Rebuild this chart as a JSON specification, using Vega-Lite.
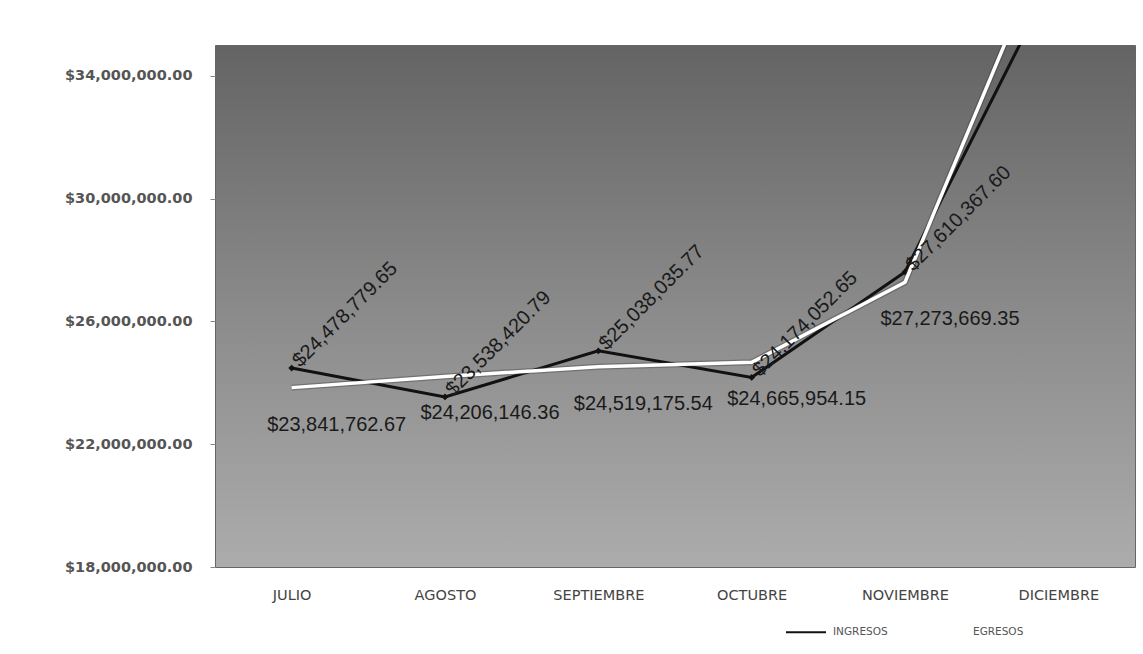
{
  "$schema": "https://vega.github.io/schema/vega-lite/v6.json",
  "width": 920,
  "height": 522,
  "autosize": {"type": "none"},
  "padding": {"left": 215, "top": 45, "right": 8, "bottom": 87},
  "background": "white",
  "config": {
    "view": {
      "stroke": "#666",
      "strokeWidth": 1,
      "fill": {
        "gradient": "linear",
        "x1": 0, "y1": 0, "x2": 0, "y2": 1,
        "stops": [
          {"offset": 0, "color": "#646464"},
          {"offset": 0.5, "color": "#8a8a8a"},
          {"offset": 1, "color": "#acacac"}
        ]
      }
    }
  },
  "data": {
    "values": [
      {"mes": "JULIO", "serie": "INGRESOS", "valor": 24478779.65},
      {"mes": "AGOSTO", "serie": "INGRESOS", "valor": 23538420.79},
      {"mes": "SEPTIEMBRE", "serie": "INGRESOS", "valor": 25038035.77},
      {"mes": "OCTUBRE", "serie": "INGRESOS", "valor": 24174052.65},
      {"mes": "NOVIEMBRE", "serie": "INGRESOS", "valor": 27610367.60},
      {"mes": "DICIEMBRE", "serie": "INGRESOS", "valor": 37500000},
      {"mes": "JULIO", "serie": "EGRESOS", "valor": 23841762.67},
      {"mes": "AGOSTO", "serie": "EGRESOS", "valor": 24206146.36},
      {"mes": "SEPTIEMBRE", "serie": "EGRESOS", "valor": 24519175.54},
      {"mes": "OCTUBRE", "serie": "EGRESOS", "valor": 24665954.15},
      {"mes": "NOVIEMBRE", "serie": "EGRESOS", "valor": 27273669.35},
      {"mes": "DICIEMBRE", "serie": "EGRESOS", "valor": 39200000}
    ]
  },
  "encoding": {
    "x": {
      "field": "mes",
      "type": "nominal",
      "sort": ["JULIO", "AGOSTO", "SEPTIEMBRE", "OCTUBRE", "NOVIEMBRE", "DICIEMBRE"],
      "scale": {"type": "point", "padding": 0.5},
      "axis": {
        "title": null,
        "labelAngle": 0,
        "ticks": false,
        "domain": false,
        "labelPadding": 21,
        "labelFont": "DejaVu Sans",
        "labelFontSize": 14.5,
        "labelColor": "#444"
      }
    },
    "y": {
      "field": "valor",
      "type": "quantitative",
      "scale": {"domain": [18000000, 35000000], "nice": false, "zero": false},
      "axis": {
        "title": null,
        "values": [18000000, 22000000, 26000000, 30000000, 34000000],
        "format": "$,.2f",
        "grid": false,
        "domain": false,
        "tickSize": 5,
        "tickColor": "#888",
        "labelPadding": 18,
        "labelFont": "DejaVu Sans",
        "labelFontSize": 14.5,
        "labelFontWeight": "bold",
        "labelColor": "#555"
      }
    }
  },
  "layer": [
    {
      "transform": [{"filter": "datum.serie === 'INGRESOS'"}],
      "mark": {"type": "line", "strokeWidth": 3, "clip": true},
      "encoding": {
        "color": {
          "field": "serie",
          "type": "nominal",
          "scale": {"domain": ["INGRESOS", "EGRESOS"], "range": ["#111111", "#ffffff"]},
          "legend": {
            "title": null,
            "orient": "none",
            "legendX": 570,
            "legendY": 566,
            "direction": "horizontal",
            "symbolType": "stroke",
            "symbolStrokeWidth": 2,
            "symbolSize": 1600,
            "labelFont": "DejaVu Sans",
            "labelFontSize": 10.5,
            "labelColor": "#555",
            "labelOffset": 6,
            "columnPadding": 34
          }
        }
      }
    },
    {
      "transform": [{"filter": "datum.serie === 'INGRESOS'"}],
      "mark": {"type": "point", "shape": "diamond", "filled": true, "size": 45, "color": "#111", "opacity": 1, "clip": true}
    },
    {
      "transform": [{"filter": "datum.serie === 'EGRESOS'"}],
      "mark": {"type": "line", "strokeWidth": 6, "stroke": "#333", "opacity": 0.35, "clip": true},
      "encoding": {}
    },
    {
      "transform": [{"filter": "datum.serie === 'EGRESOS'"}],
      "mark": {"type": "line", "strokeWidth": 3.5, "clip": true},
      "encoding": {
        "color": {"field": "serie", "type": "nominal"}
      }
    },
    {
      "transform": [{"filter": "datum.serie === 'EGRESOS' && datum.mes !== 'DICIEMBRE'"}],
      "mark": {"type": "text", "align": "center", "baseline": "middle", "dx": 45, "dy": 37, "font": "Liberation Sans", "fontSize": 20, "color": "#1a1a1a", "clip": true},
      "encoding": {
        "text": {"field": "valor", "type": "quantitative", "format": "$,.2f"}
      }
    },
    {
      "transform": [{"filter": "datum.serie === 'INGRESOS' && datum.mes !== 'DICIEMBRE'"}],
      "mark": {"type": "text", "align": "left", "baseline": "middle", "angle": -45, "dx": 6, "dy": 0, "font": "Liberation Sans", "fontSize": 20, "color": "#1a1a1a", "clip": true},
      "encoding": {
        "text": {"field": "valor", "type": "quantitative", "format": "$,.2f"}
      }
    }
  ]
}
